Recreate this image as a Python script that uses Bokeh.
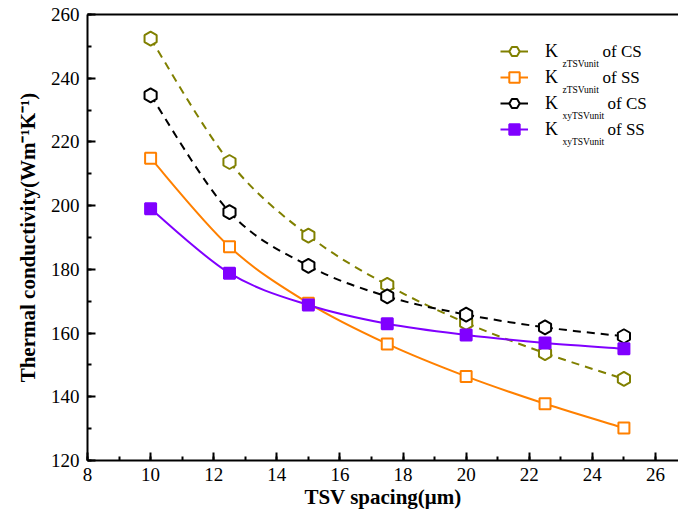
import math
import numpy as np
from bokeh.plotting import figure
from bokeh.models import (Range1d, SingleIntervalTicker, LinearAxis, FixedTicker,
                          Legend, LegendItem, Label, ColumnDataSource)
from bokeh.embed import file_html
from bokeh.resources import INLINE

# ---- data ----
spacing = [10, 12.5, 15, 17.5, 20, 22.5, 25]
kz_cs = [252.4, 213.7, 190.6, 175.1, 163.2, 153.7, 145.6]
kz_ss = [214.9, 187.1, 169.4, 156.6, 146.4, 137.8, 130.2]
kxy_cs = [234.6, 198.0, 181.1, 171.5, 165.8, 161.8, 159.0]
kxy_ss = [199.0, 178.8, 168.8, 162.9, 159.4, 156.9, 155.1]

legend_subs = ["zTSVunit", "zTSVunit", "xyTSVunit", "xyTSVunit"]
legend_tails = ["of CS", "of SS", "of CS", "of SS"]

FONT = "Liberation Serif"

p = figure(width=678, height=519, output_backend="svg", toolbar_location=None,
           x_range=Range1d(8, 26.73), y_range=Range1d(120, 260),
           min_border_left=87, min_border_top=14, min_border_right=0,
           min_border_bottom=59, x_axis_label="TSV spacing(\u03bcm)",
           y_axis_label="Thermal conductivity(Wm\u207b\u00b9K\u207b\u00b9)")
p.outline_line_color = None
p.xgrid.grid_line_color = None
p.ygrid.grid_line_color = None
p.background_fill_color = "white"
p.border_fill_color = "white"

p.xaxis.ticker = SingleIntervalTicker(interval=2, num_minor_ticks=2)
p.yaxis.ticker = SingleIntervalTicker(interval=20, num_minor_ticks=2)
for ax in (p.xaxis[0], p.yaxis[0]):
    ax.axis_line_width = 2
    ax.major_tick_line_width = 2
    ax.minor_tick_line_width = 2
    ax.major_tick_in = 8
    ax.major_tick_out = 0
    ax.minor_tick_in = 4
    ax.minor_tick_out = 0
    ax.major_label_text_font = FONT
    ax.major_label_text_font_size = "19px"
    ax.major_label_text_color = "black"
    ax.axis_label_text_font = FONT
    ax.axis_label_text_font_style = "bold"
    ax.axis_label_text_font_size = "21px"
    ax.axis_label_text_color = "black"
p.xaxis.major_label_standoff = 7
p.xaxis.axis_label_standoff = 1
p.yaxis.major_label_standoff = 8
p.yaxis.axis_label_standoff = 8

top = LinearAxis(ticker=FixedTicker(ticks=[]), axis_line_width=2,
                 major_tick_in=0, major_tick_out=0, minor_tick_in=0, minor_tick_out=0,
                 major_label_text_font_size="0px")
p.add_layout(top, "above")


def spline(xs, ys):
    x = np.asarray(xs, float)
    y = np.asarray(ys, float)
    xp = np.concatenate([[x[0]], x, [x[-1]]])
    yp = np.concatenate([[y[0]], y, [y[-1]]])
    n = len(x)
    i = np.arange(n - 1) + 1
    return dict(
        x0=xp[i], y0=yp[i], x1=xp[i + 1], y1=yp[i + 1],
        cx0=xp[i] + (xp[i + 1] - xp[i - 1]) / 6.0,
        cy0=yp[i] + (yp[i + 1] - yp[i - 1]) / 6.0,
        cx1=xp[i + 1] - (xp[i + 2] - xp[i]) / 6.0,
        cy1=yp[i + 1] - (yp[i + 2] - yp[i]) / 6.0,
    )


series = [
    (kz_cs, "#808000", "8 6", "hex", "white"),
    (kz_ss, "#FF8000", "solid", "square", "white"),
    (kxy_cs, "#000000", "8 6", "hex", "white"),
    (kxy_ss, "#8000FF", "solid", "square", "#8000FF"),
]

items = []
for vals, col, dash, mk, fill in series:
    src = ColumnDataSource(spline(spacing, vals))
    p.bezier(x0="x0", y0="y0", x1="x1", y1="y1", cx0="cx0", cy0="cy0",
             cx1="cx1", cy1="cy1", source=src, line_color=col, line_width=2,
             line_dash=dash)
    # legend sample line (hidden in the plot, drawn in the legend only)
    lr = p.line(spacing, vals, line_color=col, line_width=2, visible=False)
    ang = math.pi / 6 if mk == "hex" else 0
    sz = 14 if mk == "hex" else 11
    sc = p.scatter(spacing, vals, marker=mk, size=sz, angle=ang,
                   line_color=col, line_width=2, fill_color=fill)
    items.append((lr, sc))

leg = Legend(items=[LegendItem(label="K", renderers=[lr, sc]) for lr, sc in items],
             location=(413, 318), padding=0, margin=0, spacing=0,
             glyph_width=28, glyph_height=26, label_height=26, label_standoff=17,
             label_text_font=FONT, label_text_font_size="18px",
             label_text_color="black",
             border_line_color=None, background_fill_alpha=0)
p.add_layout(leg)

for k, (sub, tail) in enumerate(zip(legend_subs, legend_tails)):
    ybase = 397 - 26 * k
    ymid = 409 - 26 * k
    p.add_layout(Label(x=475, y=ybase, x_units="screen", y_units="screen",
                       text=sub, text_font=FONT, text_font_size="9.5px",
                       text_baseline="alphabetic", text_color="black"))
    p.add_layout(Label(x=515 + (5 if sub.startswith("xy") else 0), y=ymid,
                       x_units="screen", y_units="screen",
                       text=tail, text_font=FONT, text_font_size="17px",
                       text_baseline="middle", text_color="black"))

open("out.html", "w").write(file_html(p, INLINE))
